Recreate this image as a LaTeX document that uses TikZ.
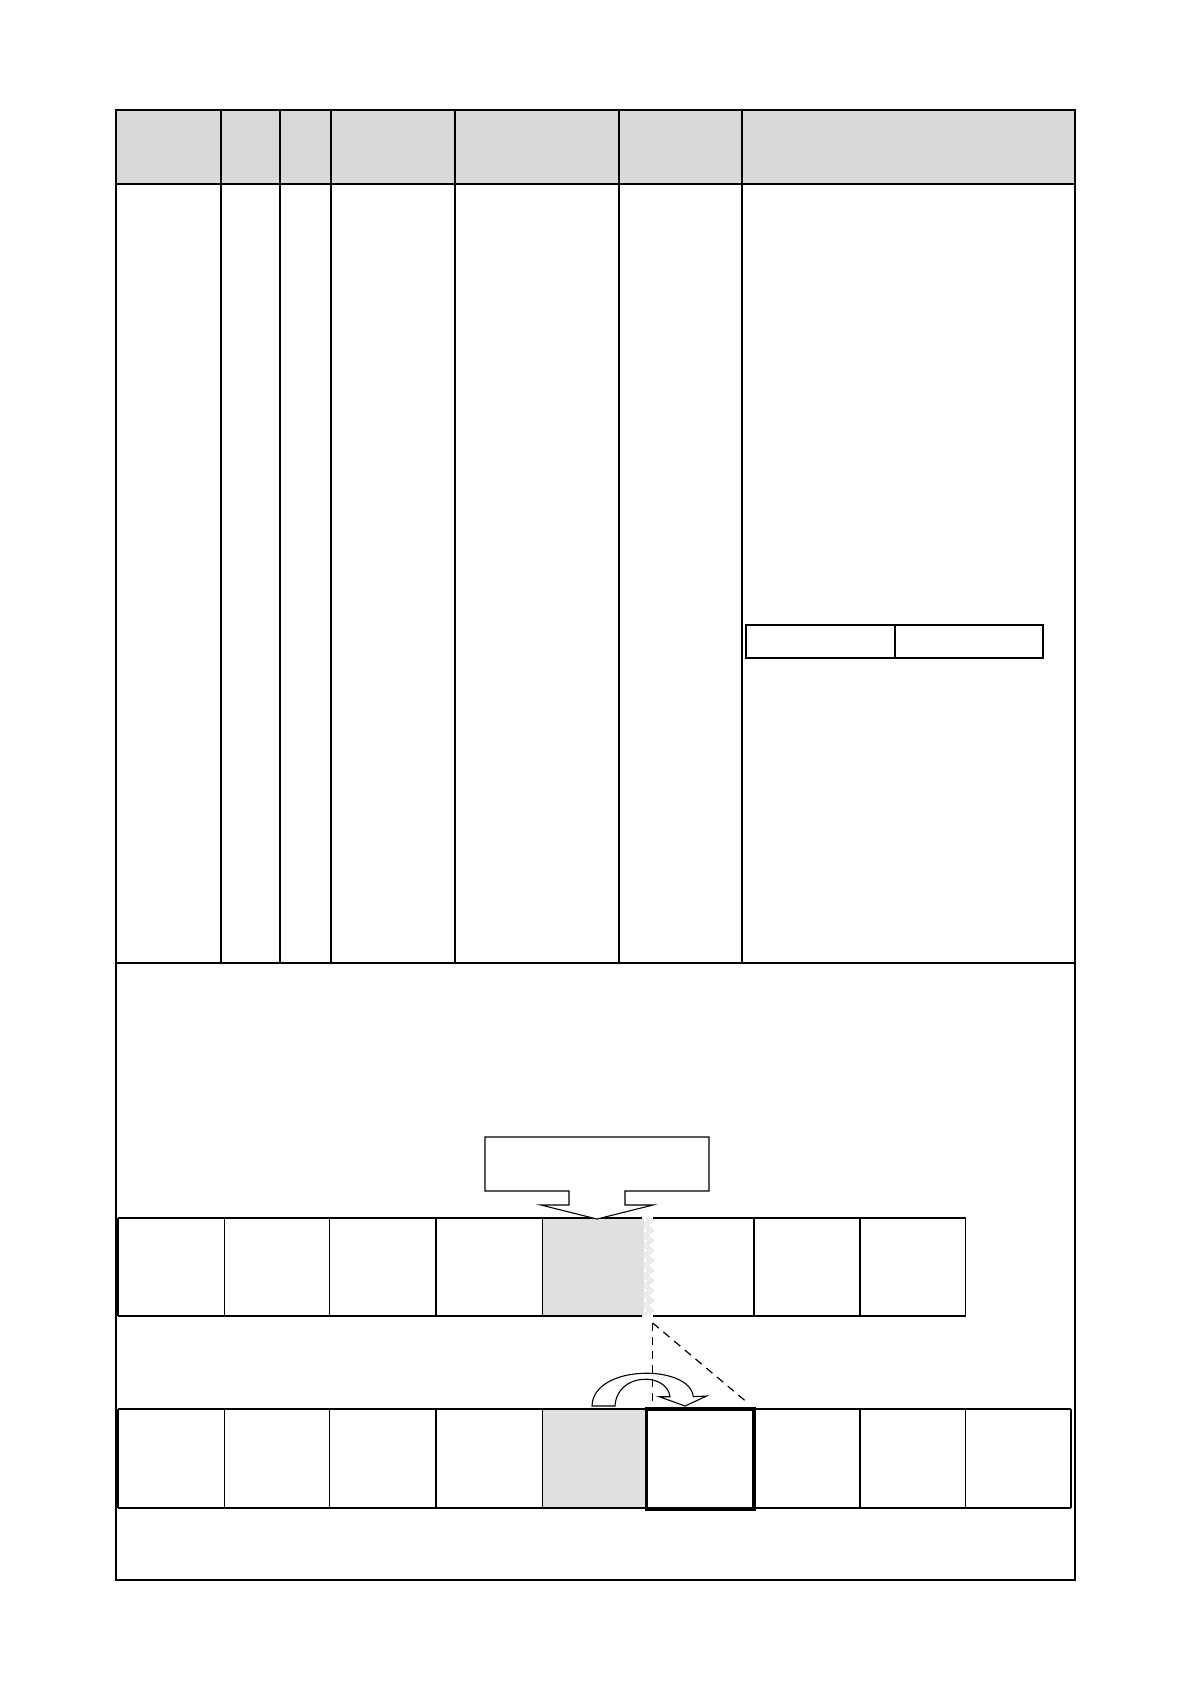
\documentclass[tikz,border=0pt]{standalone}
\usetikzlibrary{calc,decorations.pathmorphing}
\definecolor{hdrgray}{RGB}{217,217,217}
\definecolor{cellgray}{RGB}{224,224,224}
\definecolor{zigcol}{RGB}{228,228,228}
\begin{document}
\begin{tikzpicture}[x=0.5pt,y=-0.5pt,
  thinline/.style={line width=0.6pt},
  frameline/.style={line width=1.2pt},
  cellline/.style={line width=0.55pt},
  boldbox/.style={line width=1.7pt},
  dashline/.style={line width=0.6pt, dash pattern=on 4pt off 3pt},
  zigline/.style={zigcol, line width=0.8pt, decorate, decoration={zigzag, amplitude=1.6pt, segment length=5pt}}]
\useasboundingbox (0,0) rectangle (1190,1684);
\fill[white] (0,0) rectangle (1190,1684);
% ---------- header ----------
\fill[hdrgray] (116,110) rectangle (1075,184);
\foreach \x in {221,280,331,455,619,742} \draw[thinline] (\x,110) -- (\x,963);
\draw[frameline] (116,184) -- (1075,184);
\draw[frameline] (116,963) -- (1075,963);
\draw[frameline] (116,110) rectangle (1075,1580);
% ---------- small table ----------
\draw[line width=0.9pt] (746,625) rectangle (1043,658);
\draw[thinline] (895,625) -- (895,658);
% ---------- upper row ----------
\fill[cellgray] (542.4,1218) rectangle (644,1316);
\draw[zigline] (646,1218) -- (646,1316);
\draw[zigline] (650,1218) -- (650,1316);
\draw[cellline] (118,1218) -- (642,1218) (653,1218) -- (965.5,1218);
\draw[cellline] (118,1316) -- (642,1316) (653,1316) -- (965.5,1316);
\foreach \x in {118,224.5,329.7,436,542.4,754,860,965.5} \draw[cellline] (\x,1218) -- (\x,1316);
% ---------- callout ----------
\draw[cellline, fill=white] (485,1137) -- (709,1137) -- (709,1191) -- (625,1191) -- (625,1205)
  -- (653,1205) -- (597,1219) -- (541,1205) -- (569,1205) -- (569,1191) -- (485,1191) -- cycle;
% ---------- lower row ----------
\fill[cellgray] (542.4,1409) rectangle (646.6,1508);
\draw[cellline] (118,1409) -- (1071,1409);
\draw[cellline] (118,1508) -- (1071,1508);
\foreach \x in {118,224.5,329.7,436,542.4,860,965.5,1071} \draw[cellline] (\x,1409) -- (\x,1508);
\draw[boldbox] (646.6,1409) rectangle (754,1509);
% ---------- curved arrow ----------
\draw[cellline, fill=white] (592,1406) .. controls (593,1364) and (690,1364) .. (693.3,1396.7)
  -- (706.7,1396) -- (685,1406) -- (659.3,1396.7) -- (670,1396.7)
  .. controls (667,1372) and (617,1372) .. (615,1406) -- cycle;
% ---------- dashed guides ----------
\coordinate (dtop) at (652.7,1323);
\coordinate (dbot) at (652.7,1405);
\coordinate (dright) at (746.7,1402);
\draw[dashline] (dtop) -- (dbot);
\draw[dashline] (dtop) -- (dright);
\end{tikzpicture}
\end{document}
